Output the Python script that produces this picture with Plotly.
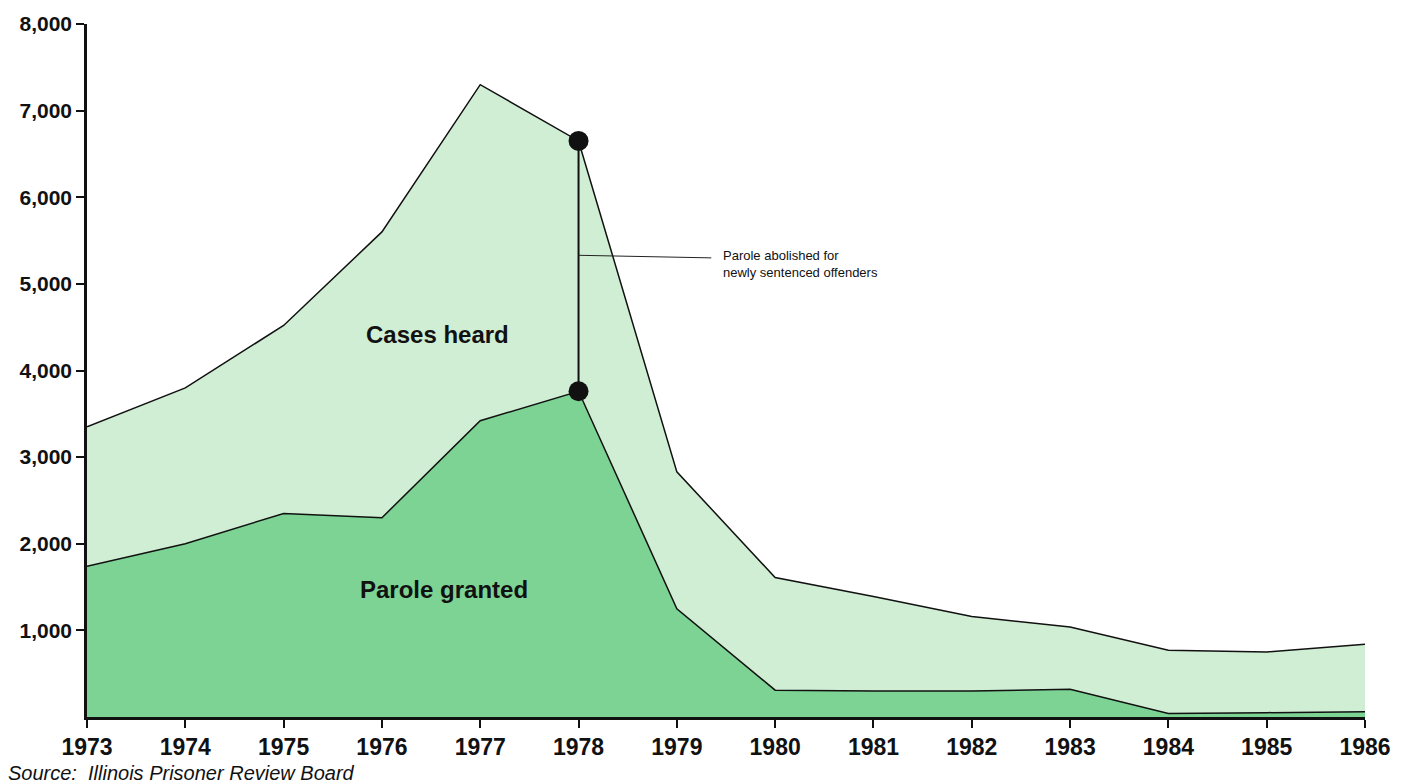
import plotly.graph_objects as go

years = [1973, 1974, 1975, 1976, 1977, 1978, 1979, 1980, 1981, 1982, 1983, 1984, 1985, 1986]
cases_heard = [3350, 3800, 4520, 5600, 7300, 6650, 2830, 1610, 1390, 1160, 1040, 770, 750, 840]
parole_granted = [1740, 2000, 2350, 2300, 3420, 3760, 1250, 310, 300, 300, 320, 40, 50, 60]
y_ticks = [1000, 2000, 3000, 4000, 5000, 6000, 7000, 8000]
y_tick_labels = ["1,000", "2,000", "3,000", "4,000", "5,000", "6,000", "7,000", "8,000"]

LIGHT = "#cfeed3"
DARK = "#7dd394"
FONT = "Liberation Sans, Arial, sans-serif"

fig = go.Figure()

fig.add_trace(go.Scatter(
    x=years, y=cases_heard, mode="lines", fill="tozeroy",
    fillcolor=LIGHT, line=dict(color="#111111", width=1.5),
    hoverinfo="x+y", name="Cases heard", showlegend=False,
))
fig.add_trace(go.Scatter(
    x=years, y=parole_granted, mode="lines", fill="tozeroy",
    fillcolor=DARK, line=dict(color="#111111", width=1.5),
    hoverinfo="x+y", name="Parole granted", showlegend=False,
))

# 1978 marker: connector between the two series and the two dots
i78 = years.index(1978)
fig.add_trace(go.Scatter(
    x=[1978, 1978], y=[parole_granted[i78], cases_heard[i78]],
    mode="lines+markers", line=dict(color="#111111", width=2),
    marker=dict(size=20, color="#111111"),
    hoverinfo="skip", showlegend=False,
))
# leader line to the note
fig.add_trace(go.Scatter(
    x=[1978, 1979.35], y=[5330, 5300], mode="lines",
    line=dict(color="#222222", width=1), hoverinfo="skip", showlegend=False,
))

fig.add_annotation(
    x=1979.45, y=5230, xref="x", yref="y", xanchor="left", yanchor="middle",
    text="Parole abolished for<br>newly sentenced offenders", showarrow=False, align="left",
    font=dict(family=FONT, size=13, color="#111111"),
)
fig.add_annotation(
    x=1976.57, y=4420, xref="x", yref="y", text="<b>Cases heard</b>", showarrow=False,
    font=dict(family=FONT, size=24, color="#111111"),
)
fig.add_annotation(
    x=1976.63, y=1470, xref="x", yref="y", text="<b>Parole granted</b>", showarrow=False,
    font=dict(family=FONT, size=24, color="#111111"),
)
fig.add_annotation(
    x=-0.063, y=-0.062, xref="paper", yref="paper", xanchor="left", yanchor="top",
    text="<i>Source:  Illinois Prisoner Review Board</i>", showarrow=False,
    font=dict(family=FONT, size=20, color="#111111"),
)

fig.update_layout(
    width=1404, height=784,
    margin=dict(l=87, r=39, t=20, b=67),
    paper_bgcolor="white", plot_bgcolor="white",
    font=dict(family=FONT, color="#111111"),
    xaxis=dict(
        range=[1973, 1986], tickmode="array", tickvals=years,
        ticktext=[f"<b>{y}</b>" for y in years],
        ticks="outside", ticklen=8, tickwidth=2, tickcolor="#111111",
        showline=True, linecolor="#111111", linewidth=2.5,
        showgrid=False, zeroline=False,
        tickfont=dict(family=FONT, size=23, color="#111111"),
    ),
    yaxis=dict(
        range=[0, 8000], tickmode="array", tickvals=y_ticks,
        ticktext=[f"<b>{t}</b>" for t in y_tick_labels],
        ticks="outside", ticklen=8, tickwidth=2, tickcolor="#111111",
        showline=True, linecolor="#111111", linewidth=2.5,
        showgrid=False, zeroline=False,
        tickfont=dict(family=FONT, size=21, color="#111111"),
    ),
)

fig.write_html("out.html")
